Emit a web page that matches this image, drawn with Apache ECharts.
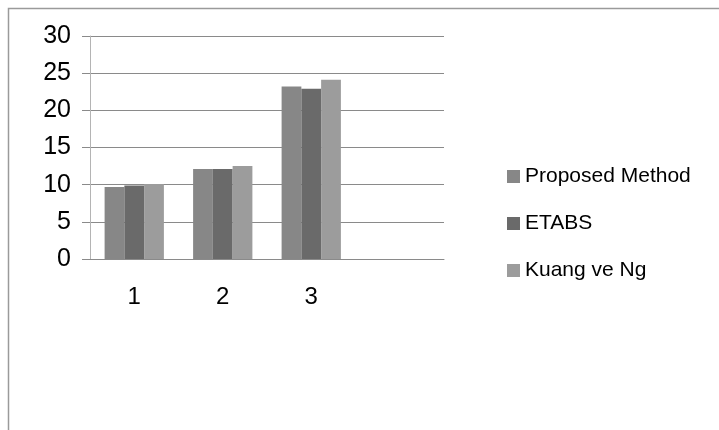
<!DOCTYPE html>
<html>
<head>
<meta charset="utf-8">
<script src="https://cdn.jsdelivr.net/npm/echarts@6/dist/echarts.min.js"></script>
<style>
  html, body { margin: 0; padding: 0; background: #fff; }
  #chart { width: 719px; height: 430px; }
</style>
</head>
<body>
<div id="chart"></div>
<script>
// kategoriler (4. kategori boş bırakılmış)
var categories = ['1', '2', '3', ''];
var seriesNames = ['Proposed Method', 'ETABS', 'Kuang ve Ng'];
var proposed = [9.7, 12.1, 23.2];
var etabs = [9.9, 12.1, 22.9];
var kuang = [10.1, 12.5, 24.1];
var yTicks = {min: 0, max: 30, interval: 5};
var colors = ['#878787', '#6a6a6a', '#9c9c9c'];

var font = '"Liberation Sans", Arial, sans-serif';
var myChart = echarts.init(document.getElementById('chart'));

function bar(name, data, color) {
    return {
        name: name,
        type: 'bar',
        data: data,
        barGap: '0%',
        barCategoryGap: '33%',
        itemStyle: {color: color},
        animation: false
    };
}

myChart.setOption({
    animation: false,
    graphic: [{
        type: 'rect',
        shape: {x: 8.5, y: 8.5, width: 730, height: 440},
        style: {fill: 'none', stroke: '#9a9a9a', lineWidth: 1.5}
    }],
    grid: {left: 90, right: 275, top: 36, bottom: 171},
    legend: {
        orient: 'vertical',
        left: 502,
        top: 161,
        icon: 'rect',
        itemWidth: 13,
        itemHeight: 13,
        itemGap: 26,
        textStyle: {fontFamily: font, fontSize: 21, color: '#000', lineHeight: 21},
        data: seriesNames
    },
    xAxis: {
        type: 'category',
        data: categories,
        axisTick: {show: false},
        axisLine: {lineStyle: {color: '#8a8a8a', width: 1}},
        axisLabel: {fontFamily: font, fontSize: 24, color: '#000', margin: 26}
    },
    yAxis: {
        type: 'value',
        min: yTicks.min,
        max: yTicks.max,
        interval: yTicks.interval,
        axisLine: {show: true, lineStyle: {color: '#b4b4b4', width: 1}},
        axisTick: {show: true, length: 8, lineStyle: {color: '#8a8a8a'}},
        splitLine: {lineStyle: {color: '#8a8a8a', width: 1}},
        axisLabel: {fontFamily: font, fontSize: 25, color: '#000', margin: 19}
    },
    series: [
        bar(seriesNames[0], proposed, colors[0]),
        bar(seriesNames[1], etabs, colors[1]),
        bar(seriesNames[2], kuang, colors[2])
    ]
});
</script>
</body>
</html>
